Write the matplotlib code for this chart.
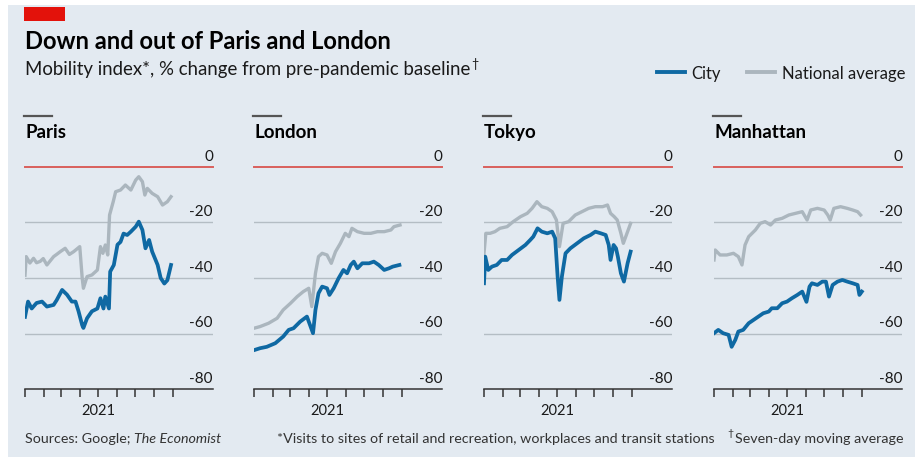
import numpy as np
import matplotlib
matplotlib.use("Agg")
import matplotlib.pyplot as plt
import matplotlib.dates as mdates
from matplotlib.patches import Rectangle
from matplotlib.lines import Line2D

plt.rcParams["font.family"] = ["Lato", "DejaVu Sans"]

BG = "#e3eaf1"
BLUE = "#0f69a3"
GREY = "#abb6be"
GRID = "#b4bdc4"
ZERO = "#d9605c"
INK = "#1a1a1a"

START = np.datetime64("2021-01-01")

# days since 1 Jan 2021, % change from baseline (7-day average)
paris_city_day = [0, 5, 11, 19, 28, 36, 47, 52, 61, 69, 77, 83, 88, 94, 96, 102, 110, 119, 124, 129,
                  132, 138, 140, 146, 152, 157, 162, 168, 174, 182, 187, 193, 198, 204, 209, 218, 223, 229, 234, 240]
paris_city = [-54, -48.5, -51, -49, -48.5, -50.3, -49.7, -48, -44.3, -46, -48.5, -48.5, -52, -57, -58, -54.5,
              -52, -51, -47.3, -51, -46.7, -51, -37.7, -35.3, -28, -27, -24, -24.5, -23.3, -21.5, -19.7,
              -22.7, -29.3, -26.3, -30.5, -35.3, -40, -42, -40.8, -35.3]
paris_nat_day = [0, 2, 8, 14, 19, 25, 30, 36, 47, 52, 58, 66, 73, 80, 90, 94, 96, 102, 110, 119, 124, 128,
                 132, 136, 139, 145, 149, 157, 165, 174, 182, 187, 193, 197, 201, 209, 218, 226, 234, 240]
paris_nat = [-39, -32.3, -34.6, -32.9, -34.5, -34, -33, -35.3, -32.3, -31.5, -30.5, -29.3, -31.5, -30.5,
             -28.7, -40, -43.7, -39.5, -38.9, -37.1, -28.7, -31.1, -28.1, -31.7, -17.3, -12.5, -8.9, -8.3,
             -6.5, -8.3, -4.7, -3.5, -5.3, -10.1, -7.7, -9.5, -10.7, -13.7, -12.5, -10.7]

london_city_day = [0, 10, 21, 35, 48, 57, 65, 76, 87, 91, 97, 101, 106, 112, 120, 124, 131, 139, 147, 153,
                   159, 164, 170, 178, 189, 197, 205, 214, 222, 228, 239]
london_city = [-66, -65.3, -64.8, -63.5, -61.1, -58.7, -58.1, -55.7, -53.9, -56.3, -59.9, -51.5, -45.5,
               -43.1, -43.7, -46.1, -43.7, -40.1, -37.1, -38.3, -35.3, -34.1, -36.5, -34.7, -34.7, -34.1,
               -35.3, -37.1, -36.5, -35.9, -35.3]
london_nat_day = [0, 10, 24, 38, 48, 60, 71, 81, 90, 95, 101, 106, 112, 120, 127, 134, 142, 150, 156, 161,
                  170, 181, 192, 203, 214, 225, 230, 240]
london_nat = [-58.1, -57.5, -56.3, -54.5, -51.5, -49.1, -46.7, -44.9, -43.7, -50.3, -38.3, -32.3, -31.1,
              -31.7, -34.7, -30.5, -27.5, -23.9, -25.1, -22.1, -23.3, -23.9, -23.9, -23.3, -23.3, -22.7,
              -21.5, -20.9]

tokyo_city_day = [0, 2, 7, 13, 21, 29, 38, 46, 57, 68, 76, 81, 88, 95, 104, 112, 117, 121, 124, 128,
                  134, 142, 153, 164, 175, 183, 192, 200, 205, 208, 213, 217, 220, 225, 230, 236, 241]
tokyo_city = [-41.9, -32.3, -37.1, -35.9, -35.3, -33.5, -33.5, -31.7, -29.9, -28.1, -26.3, -25.1, -22.1,
              -23.3, -23.9, -23.3, -25.7, -39.5, -47.9, -39.5, -31.1, -29.3, -27.5, -25.7, -24.5, -23.3,
              -23.9, -24.5, -28.1, -33.5, -28.1, -29.3, -32.3, -38.3, -41.3, -34.7, -30.5]
tokyo_nat_day = [0, 3, 10, 18, 26, 38, 48, 60, 71, 79, 87, 95, 104, 112, 119, 124, 130, 139, 150, 161,
                 172, 183, 195, 203, 208, 214, 219, 225, 229, 235, 241]
tokyo_nat = [-31.1, -23.9, -23.9, -23.3, -22.1, -21.5, -19.7, -17.9, -16.7, -14.9, -12.5, -14.3, -14.9,
             -16.1, -19.1, -28.7, -20.3, -19.7, -17.3, -16.1, -14.9, -14.3, -14.3, -13.7, -16.7, -17.9,
             -19.1, -23.9, -27.5, -23.9, -20.3]

manhattan_city_day = [0, 7, 15, 24, 29, 35, 40, 48, 57, 65, 73, 81, 90, 95, 104, 112, 120, 128, 137, 145,
                      152, 157, 161, 170, 178, 184, 189, 195, 203, 211, 219, 228, 236, 239, 243]
manhattan_city = [-59.9, -58.7, -59.9, -60.5, -64.8, -62.3, -59.3, -58.7, -56.3, -55.1, -53.9, -52.7,
                  -52.1, -50.9, -50.9, -49.1, -48.5, -47.3, -46.1, -44.9, -48.6, -43.1, -41.9, -42.5,
                  -41.3, -41.3, -46.7, -42.5, -41.3, -40.7, -41.3, -41.9, -42.5, -46.1, -44.9]
manhattan_nat_day = [0, 2, 10, 21, 32, 40, 46, 51, 57, 68, 76, 84, 93, 101, 112, 123, 134, 145, 153, 159,
                     170, 181, 187, 191, 197, 208, 219, 228, 236, 241]
manhattan_nat = [-33.5, -29.9, -31.7, -31.7, -31.1, -32.3, -35.3, -28.1, -25.1, -22.7, -20.3, -19.7,
                 -20.9, -19.1, -18.5, -17.3, -16.7, -16.1, -19.1, -15.5, -14.9, -15.5, -17.3, -19.1,
                 -14.9, -14.3, -14.9, -15.5, -16.1, -17.3]

cities = ["Paris", "London", "Tokyo", "Manhattan"]
city_series = [(paris_city_day, paris_city), (london_city_day, london_city),
               (tokyo_city_day, tokyo_city), (manhattan_city_day, manhattan_city)]
nat_series = [(paris_nat_day, paris_nat), (london_nat_day, london_nat),
              (tokyo_nat_day, tokyo_nat), (manhattan_nat_day, manhattan_nat)]
yticks = [0, -20, -40, -60, -80]
month_ticks = [np.datetime64(f"2021-{m:02d}-01") for m in range(1, 10)]

W, H = 922, 461
fig = plt.figure(figsize=(W / 100, H / 100), dpi=100)
fig.patch.set_facecolor("white")


def fx(x):
    return x / W


def fy(y):
    return 1 - y / H


def dates(days):
    return START + np.array(days).astype("timedelta64[D]")


fig.add_artist(Rectangle((fx(8), fy(457)), fx(915) - fx(8), fy(5) - fy(457),
                         transform=fig.transFigure, facecolor=BG, edgecolor="none", zorder=0))
fig.add_artist(Rectangle((fx(24), fy(21)), fx(41), 14 / H, transform=fig.transFigure,
                         facecolor="#e3120b", edgecolor="none"))

fig.text(fx(25), fy(49), "Down and out of Paris and London", fontsize=17.1, fontweight="bold",
         color="black", va="baseline")
sub = fig.text(fx(25), fy(75), "Mobility index*, % change from pre-pandemic baseline", fontsize=13.4,
               color=INK, va="baseline")

# legend
fig.add_artist(Line2D([fx(657), fx(685)], [fy(72)] * 2, color=BLUE, lw=2.8))
fig.text(fx(691), fy(79), "City", fontsize=12, color=INK, va="baseline")
fig.add_artist(Line2D([fx(747), fx(775)], [fy(72)] * 2, color=GREY, lw=2.8))
fig.text(fx(782), fy(79), "National average", fontsize=12, color=INK, va="baseline")

lefts = [25, 254, 484, 714]
for i, name in enumerate(cities):
    L = lefts[i]
    ax = fig.add_axes([fx(L), fy(389), 188 / W, 222 / H])
    ax.patch.set_visible(False)
    ax.set_xlim(START, START + np.timedelta64(309, "D"))
    ax.set_ylim(-80, 0)
    for s in ["top", "left", "right"]:
        ax.spines[s].set_visible(False)
    ax.spines["bottom"].set_color("#333333")
    ax.spines["bottom"].set_linewidth(1.1)
    ax.set_yticks([])
    ax.set_xticks(month_ticks)
    ax.tick_params(axis="x", direction="out", length=6, width=1.1, color="#333333", labelbottom=False)

    for v in [-20, -40, -60]:
        ax.axhline(v, color=GRID, lw=1.0, zorder=1)
    ax.axhline(0, color=ZERO, lw=1.4, clip_on=False, zorder=1)
    for v in yticks:
        ax.annotate(f"{v}", xy=(1, v), xycoords=("axes fraction", "data"), xytext=(0, 2.5),
                    textcoords="offset points", ha="right", va="bottom", fontsize=11, color=INK)

    d, v = nat_series[i]
    ax.plot(dates(d), v, color=GREY, lw=2.4, zorder=2, solid_joinstyle="round")
    d, v = city_series[i]
    ax.plot(dates(d), v, color=BLUE, lw=2.7, zorder=3, solid_joinstyle="round")

    mid = mdates.date2num(dates([120]))[0]
    ax.annotate("2021", xy=(mid, 0), xycoords=("data", "axes fraction"), xytext=(0, -11),
                textcoords="offset points", ha="center", va="top", fontsize=10.5, color=INK)

    fig.add_artist(Line2D([fx(L - 1), fx(L + 27)], [fy(116)] * 2, color="#555555", lw=1.6))
    fig.text(fx(L), fy(138), name, fontsize=13.5, fontweight="bold", color="black", va="baseline")

# footnotes
fs = 10.3
r = fig.canvas.get_renderer()
bb = sub.get_window_extent(r)
fig.text(fx(bb.x1 + 1), fy(68), "\u2020", fontsize=9, color=INK, va="baseline")

src = fig.text(fx(25), fy(443), "Sources: Google;", fontsize=fs, color="#333333", va="baseline")
bb = src.get_window_extent(r)
fig.text(fx(bb.x1 + 3), fy(443), "The Economist", fontsize=fs, style="italic", color="#333333",
         va="baseline")
fig.text(fx(277), fy(443), "*Visits to sites of retail and recreation, workplaces and transit stations",
         fontsize=fs, color="#333333", va="baseline")
sev = fig.text(fx(903), fy(443), "Seven-day moving average", fontsize=fs, color="#333333",
               va="baseline", ha="right")
bb = sev.get_window_extent(r)
fig.text(fx(bb.x0 - 1), fy(436), "\u2020", fontsize=7.5, color="#333333", va="baseline", ha="right")

fig.savefig("out.png", dpi=100)
